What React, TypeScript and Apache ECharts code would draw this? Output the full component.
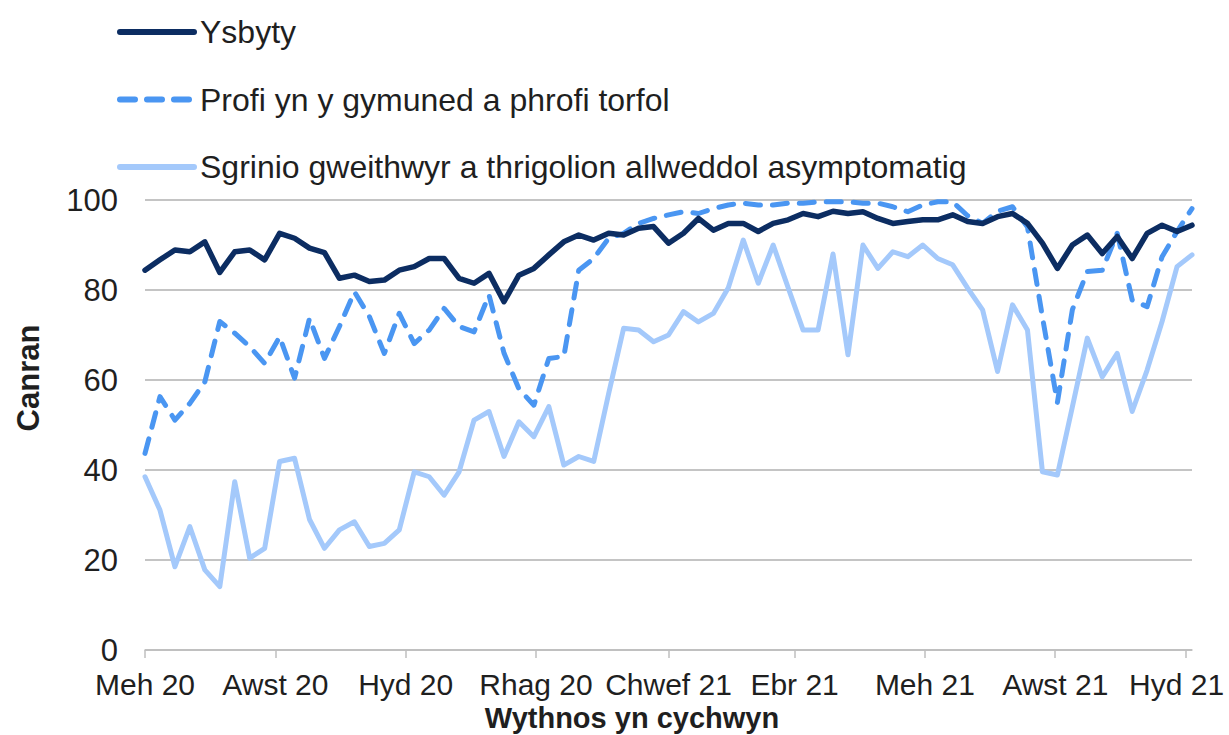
import React, { useEffect, useRef } from "react";
import * as echarts from "echarts";

// Week commencing, first week = 1 June 2020, weekly points
const ysbyty = [
  84.4, 86.7, 88.9, 88.5, 90.7, 83.9, 88.5, 88.9, 86.7, 92.6,
  91.5, 89.3, 88.3, 82.6, 83.3, 81.9, 82.2, 84.4, 85.2, 87.0,
  87.0, 82.6, 81.5, 83.7, 77.4, 83.3, 84.8, 87.8, 90.7, 92.2,
  91.1, 92.6, 92.2, 93.7, 94.1, 90.4, 92.6, 95.9, 93.3, 94.8,
  94.8, 93.0, 94.8, 95.6, 97.0, 96.3, 97.5, 97.0, 97.4, 95.9,
  94.8, 95.2, 95.6, 95.6, 96.7, 95.2, 94.8, 96.3, 97.0, 94.8,
  90.4, 84.8, 90.0, 92.2, 88.1, 91.9, 87.0, 92.6, 94.4, 93.0,
  94.4,
];

const profi = [
  43.7, 56.3, 51.1, 54.8, 59.6, 73.0, 70.4, 67.4, 63.7, 69.6,
  60.4, 73.7, 64.8, 71.9, 79.6, 74.1, 65.9, 74.8, 68.1, 71.1,
  75.9, 71.9, 70.7, 78.9, 66.0, 58.0, 54.4, 64.8, 65.2, 84.4,
  87.0, 91.5, 92.6, 94.8, 95.9, 96.7, 97.4, 97.0, 98.1, 98.9,
  99.3, 98.9, 98.9, 99.3, 99.3, 99.6, 99.6, 99.6, 99.3, 99.3,
  98.5, 97.4, 98.9, 99.6, 99.6, 96.5, 94.8, 97.5, 98.5, 94.0,
  74.0, 55.0, 75.6, 84.1, 84.4, 92.6, 77.8, 76.3, 87.4, 93.0,
  98.1,
];

const sgrinio = [
  38.5, 31.1, 18.5, 27.4, 17.8, 14.1, 37.4, 20.4, 22.6, 41.9,
  42.6, 29.0, 22.6, 26.7, 28.5, 23.0, 23.7, 26.7, 39.6, 38.5,
  34.4, 39.6, 51.1, 53.0, 43.0, 50.7, 47.4, 54.1, 41.1, 43.0,
  41.9, 57.0, 71.5, 71.1, 68.5, 70.0, 75.2, 72.9, 74.8, 80.5,
  91.1, 81.5, 90.0, 80.5, 71.1, 71.1, 88.0, 65.6, 90.0, 84.8,
  88.5, 87.4, 90.0, 87.0, 85.6, 80.4, 75.6, 61.9, 76.7, 71.1,
  39.6, 38.9, 54.0, 69.3, 60.7, 65.9, 53.0, 62.2, 73.0, 85.2,
  87.8,
];

const seriesNames = [
  "Ysbyty",
  "Profi yn y gymuned a phrofi torfol",
  "Sgrinio gweithwyr a thrigolion allweddol asymptomatig",
];

const tickMonths: [number, number][] = [
  [2020, 5], [2020, 7], [2020, 9], [2020, 11], [2021, 1],
  [2021, 3], [2021, 5], [2021, 7], [2021, 9],
];
const tickLabels = [
  "Meh 20", "Awst 20", "Hyd 20", "Rhag 20", "Chwef 21",
  "Ebr 21", "Meh 21", "Awst 21", "Hyd 21",
];

const yTicks = [0, 20, 40, 60, 80, 100];

const START = Date.UTC(2020, 5, 1);
const DAY = 86400000;
const tickDays = tickMonths.map(([y, m]) => (Date.UTC(y, m, 1) - START) / DAY);
const toPairs = (arr: number[]) => arr.map((v, i) => [i * 7, v]);
const lastDay = (ysbyty.length - 1) * 7;

const FONT = "'Liberation Sans', Arial, sans-serif";
const TXT = "#1f1f1f";

export default function App() {
  const ref = useRef<HTMLDivElement>(null);
  useEffect(() => {
    if (!ref.current) return;
    const chart = echarts.init(ref.current, undefined, { renderer: "svg" });
    const labelMap: Record<number, string> = {};
    tickDays.forEach((d, i) => (labelMap[d] = tickLabels[i]));
    chart.setOption({
      animation: false,
      backgroundColor: "#ffffff",
      textStyle: { fontFamily: FONT },
      grid: { left: 145, right: 37, top: 200, bottom: 85 },
      legend: {
        orient: "vertical",
        left: 112,
        top: 9,
        itemWidth: 74,
        itemHeight: 14,
        itemGap: 31.5,
        data: seriesNames,
        itemStyle: { opacity: 0 },
        lineStyle: { width: 6, cap: "round" },
        textStyle: { fontSize: 32, color: TXT, fontFamily: FONT, lineHeight: 36, padding: [0, 0, 0, 1] },
      },
      xAxis: {
        type: "value",
        min: 0,
        max: lastDay,
        axisLine: { show: true, lineStyle: { color: "#bfbfbf", width: 1.5 } },
        axisTick: {
          show: true,
          customValues: tickDays,
          length: 8,
          lineStyle: { color: "#bfbfbf", width: 1.5 },
        },
        splitLine: { show: false },
        axisLabel: {
          customValues: tickDays,
          margin: 19,
          fontSize: 30,
          color: TXT,
          fontFamily: FONT,
          formatter: (v: number) => {
            const t = labelMap[v] ?? "";
            return v === tickDays[tickDays.length - 1] ? "{r|" + t + "}" : t;
          },
          rich: {
            r: { fontSize: 30, color: TXT, fontFamily: FONT, padding: [0, 18, 0, 0] },
          },
        },
      },
      yAxis: {
        type: "value",
        min: 0,
        max: 100,
        interval: 20,
        axisLine: { show: false },
        axisTick: { show: false },
        splitLine: { show: true, lineStyle: { color: "#c4c4c4", width: 2 } },
        axisLabel: {
          margin: 27,
          fontSize: 31,
          color: TXT,
          fontFamily: FONT,
          formatter: (v: number) => (yTicks.includes(v) ? String(v) : ""),
        },
      },
      graphic: [
        {
          type: "text",
          x: 28,
          y: 378,
          rotation: Math.PI / 2,
          style: {
            text: "Canran",
            fontSize: 31,
            fontWeight: "bold",
            fill: TXT,
            fontFamily: FONT,
            align: "center",
            verticalAlign: "middle",
          },
        },
        {
          type: "text",
          x: 632,
          y: 718,
          style: {
            text: "Wythnos yn cychwyn",
            fontSize: 29,
            fontWeight: "bold",
            fill: TXT,
            fontFamily: FONT,
            align: "center",
            verticalAlign: "middle",
          },
        },
      ],
      series: [
        {
          name: seriesNames[0],
          type: "line",
          data: toPairs(ysbyty),
          symbol: "none",
          lineStyle: { color: "#0c2d62", width: 5.5, cap: "round", join: "round" },
          itemStyle: { color: "#0c2d62" },
          z: 4,
        },
        {
          name: seriesNames[1],
          type: "line",
          data: toPairs(profi),
          symbol: "none",
          lineStyle: {
            color: "#4a96f2",
            width: 5,
            type: [15, 12],
            cap: "round",
            join: "round",
          },
          itemStyle: { color: "#4a96f2" },
          z: 3,
        },
        {
          name: seriesNames[2],
          type: "line",
          data: toPairs(sgrinio),
          symbol: "none",
          lineStyle: { color: "#a4c9fb", width: 5, cap: "round", join: "round" },
          itemStyle: { color: "#a4c9fb" },
          z: 2,
        },
      ],
    });
    return () => chart.dispose();
  }, []);
  return <div ref={ref} style={{ width: 1229, height: 735, position: "absolute", left: 0, top: 0 }} />;
}
